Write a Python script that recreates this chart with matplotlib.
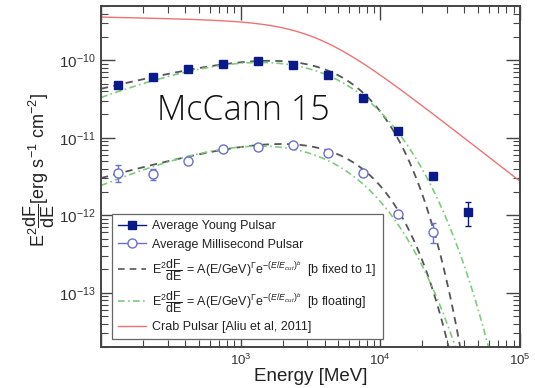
import numpy as np
import matplotlib
matplotlib.use('Agg')
import matplotlib.pyplot as plt
from matplotlib import font_manager
from matplotlib.font_manager import FontProperties
from matplotlib.lines import Line2D
from matplotlib.ticker import FixedLocator, LogLocator, LogFormatterMathtext, NullFormatter

plt.rcParams['font.family'] = ['Liberation Sans', 'DejaVu Sans']
plt.rcParams['mathtext.fontset'] = 'custom'
plt.rcParams['mathtext.rm'] = 'Liberation Sans'
plt.rcParams['mathtext.it'] = 'Liberation Sans:italic'
plt.rcParams['mathtext.bf'] = 'Liberation Sans:bold'

# stacked spectra, energy in MeV, E^2 dF/dE in erg s^-1 cm^-2
young_energy = [133, 237, 422, 750, 1334, 2371, 4217, 7499, 13335, 23714, 42170]
young_flux = [4.79e-11, 6.07e-11, 7.7e-11, 8.93e-11, 9.77e-11, 8.67e-11,
              6.44e-11, 3.22e-11, 1.21e-11, 3.24e-12, 1.09e-12]
young_err_lo = [0, 0, 0, 0, 0, 0, 0, 0, 0, 0, 0.36e-12]
young_err_hi = [0, 0, 0, 0, 0, 0, 0, 0, 0, 0, 0.41e-12]

msp_energy = [133, 237, 422, 750, 1334, 2371, 4217, 7499, 13335, 23714]
msp_flux = [3.47e-12, 3.37e-12, 5.0e-12, 7.14e-12, 7.58e-12, 8.05e-12,
            6.35e-12, 3.51e-12, 1.04e-12, 6.07e-13]
msp_err_lo = [0.79e-12, 0.54e-12, 0, 0, 0, 0, 0, 0, 0, 0.17e-12]
msp_err_hi = [0.98e-12, 0.62e-12, 0, 0, 0, 0, 0, 0, 0, 0.19e-12]

# fit parameters: A, Gamma, E_cut [GeV], b
young_fixed = (1.24e-10, 0.45, 3.6, 1.0)
young_float = (2.75e-10, 0.80, 0.85, 0.60)
msp_fixed = (9.8e-12, 0.50, 3.9, 1.0)
msp_float = (2.62e-11, 0.90, 0.70, 0.60)

# Crab broken power law: norm, index1, index2, break [MeV], sharpness
crab = (3.13e-10, 2.04, 3.40, 3400.0, 2.0)


def cutoff_pl(e_mev, a, gamma, ecut, b):
    x = e_mev / 1000.0
    return a * x ** gamma * np.exp(-(x / ecut) ** b)


def broken_pl(e_mev, norm, g1, g2, ebreak, s):
    x = e_mev / ebreak
    return norm * x ** (2 - g1) * (1 + x ** s) ** (-(g2 - g1) / s)


def light_font():
    # thin, normal-width sans face for the big label, if one is installed
    names = {'light': 300, 'extra light': 200, 'ultralight': 200, 'thin': 100}
    for fam in ('Open Sans', 'Lato', 'Roboto', 'Inter', 'Noto Sans'):
        for f in font_manager.fontManager.ttflist:
            w = f.weight if isinstance(f.weight, int) else names.get(str(f.weight).lower(), 400)
            narrow = 'condensed' in f.fname.lower() or 'condensed' in str(f.stretch).lower()
            if f.name == fam and 200 <= w <= 300 and f.style == 'normal' and not narrow:
                return FontProperties(fname=f.fname)
    return FontProperties(family='Open Sans', weight='light')


navy = '#0b1a8a'
msp_col = '#6a70cc'
grey = '#555555'
green = '#7ccc7c'
red = '#f07272'

fig = plt.figure(figsize=(5.35, 3.88), dpi=100)
ax = fig.add_axes([101 / 535, 1 - 347 / 388, 419 / 535, 341 / 388])

e = np.logspace(2, 5, 500)
ax.plot(e, broken_pl(e, *crab), color=red, lw=1.0)
for p in (young_fixed, msp_fixed):
    ax.plot(e, cutoff_pl(e, *p), color=grey, lw=1.3, dashes=(4, 3))
for p in (young_float, msp_float):
    ax.plot(e, cutoff_pl(e, *p), color=green, lw=1.2, dashes=(4, 2, 1, 2))

ax.errorbar(young_energy, young_flux, yerr=[young_err_lo, young_err_hi], fmt='s',
            color=navy, ms=6, elinewidth=1, capsize=2, capthick=1, zorder=5)
ax.errorbar(msp_energy, msp_flux, yerr=[msp_err_lo, msp_err_hi], fmt='o',
            color=msp_col, mfc='white', mew=1.0, ms=6.5, elinewidth=1,
            capsize=2, capthick=1, zorder=5)

ax.set_xscale('log')
ax.set_yscale('log')
ax.set_xlim(100, 1e5)
ax.set_ylim(2e-14, 5e-10)

ax.xaxis.set_major_locator(FixedLocator([1e2, 1e3, 1e4, 1e5]))
ax.xaxis.set_major_formatter(LogFormatterMathtext())
ax.xaxis.set_minor_locator(LogLocator(base=10, subs=np.arange(2, 10)))
ax.xaxis.set_minor_formatter(NullFormatter())
ax.yaxis.set_major_locator(FixedLocator([1e-13, 1e-12, 1e-11, 1e-10]))
ax.yaxis.set_major_formatter(LogFormatterMathtext())
ax.yaxis.set_minor_locator(LogLocator(base=10, subs=np.arange(2, 10), numticks=20))
ax.yaxis.set_minor_formatter(NullFormatter())
ax.tick_params(which='both', direction='in', top=True, right=True, color='#444444')
ax.tick_params(which='major', length=10, width=1)
ax.tick_params(which='minor', length=5, width=0.8)
ax.tick_params(axis='x', labelsize=9.5, pad=4, labelcolor='#333333')
ax.tick_params(axis='y', labelsize=11, pad=4, labelcolor='#333333')
for lab in ax.get_xticklabels():
    if lab.get_position()[0] == 1e2:
        lab.set_visible(False)
for sp in ax.spines.values():
    sp.set_color('#444444')
    sp.set_linewidth(1.4)

ax.set_xlabel('Energy [MeV]', fontsize=13.5, color='#222222')
ax.xaxis.set_label_coords(0.5, -0.062)
ax.set_ylabel(r'$\mathrm{E^{2}\dfrac{dF}{dE}}$[erg s$^{-1}$ cm$^{-2}$]', fontsize=13,
              color='#222222')
ax.yaxis.set_label_coords(-0.105, 0.52)

eq = r'$\mathrm{E^{2}\dfrac{dF}{dE}}$ = A(E/GeV)$^{\Gamma}$e$^{-(E/E_{cut})^{b}}$'
handles = [
    Line2D([], [], color=navy, marker='s', ms=6, lw=1),
    Line2D([], [], color=msp_col, marker='o', mfc='white', ms=6.5, lw=1),
    Line2D([], [], color=grey, lw=1.2, dashes=(4, 3)),
    Line2D([], [], color=green, lw=1.2, dashes=(4, 2, 1, 2)),
    Line2D([], [], color=red, lw=1),
]
labels = ['Average Young Pulsar', 'Average Millisecond Pulsar',
          eq + '  [b fixed to 1]', eq + '  [b floating]',
          'Crab Pulsar [Aliu et al, 2011]']
leg = ax.legend(handles, labels, loc='upper left', bbox_to_anchor=(0.026, 0.39),
                borderaxespad=0, fontsize=9.0, frameon=True, fancybox=False,
                edgecolor='#666666', framealpha=1, handlelength=2.2,
                handletextpad=0.5, labelspacing=0.5, borderpad=0.5)
leg.get_frame().set_linewidth(0.9)
for t in leg.get_texts():
    t.set_color('#222222')

fig.text(157 / 535, 1 - 120 / 388, 'McCann 15', fontproperties=light_font(), fontsize=24.5,
         va='baseline', ha='left', color='#111111')

plt.savefig('out.png', dpi=100)
